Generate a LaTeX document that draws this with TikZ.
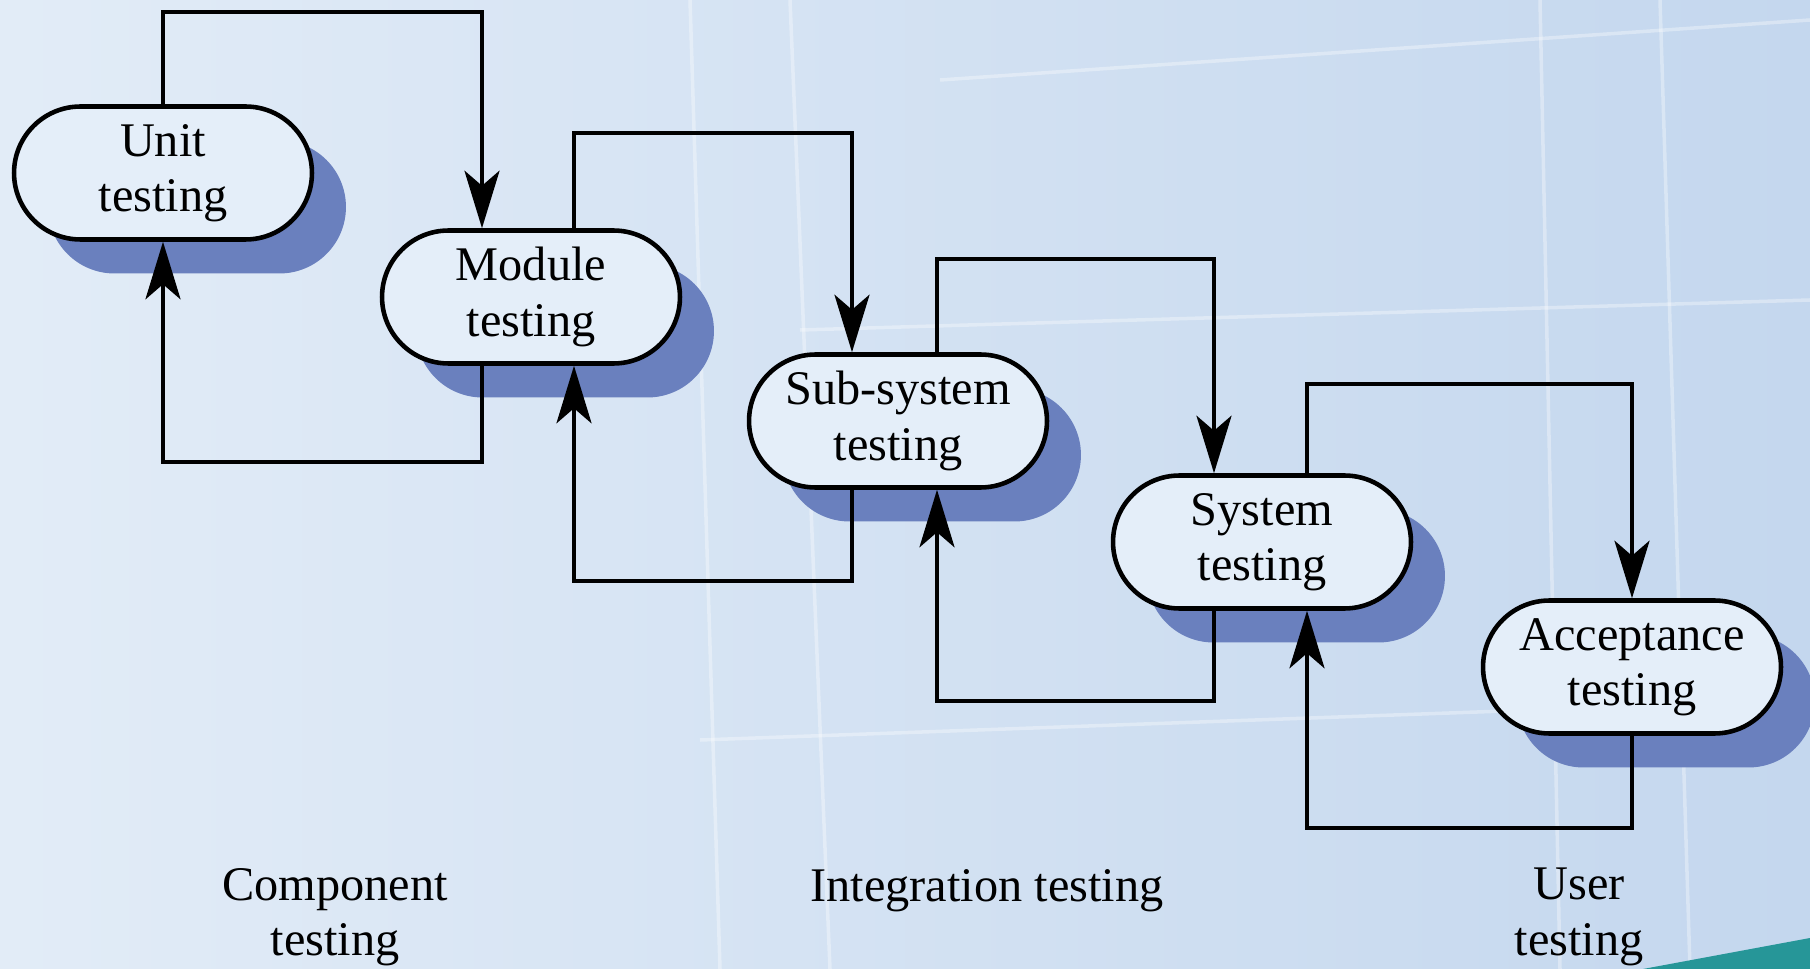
\documentclass[tikz,border=0pt]{standalone}
\usepackage{fontspec}
\setmainfont{Liberation Serif}
\usetikzlibrary{arrows.meta,shapes.misc,shadows}
\definecolor{bgblue}{RGB}{196,215,238}
\definecolor{bglight}{RGB}{226,236,247}
\definecolor{boxfill}{RGB}{228,238,249}
\definecolor{shadowblue}{RGB}{106,128,190}
\definecolor{cornerteal}{RGB}{38,150,152}

\tikzset{
  stage/.style={rounded rectangle, draw, line width=2.6pt, fill=boxfill,
    minimum width=5.96cm, minimum height=2.66cm, inner sep=0pt, align=center,
    font=\fontsize{27.5}{31.5}\selectfont,
    drop shadow={shadow xshift=0.68cm, shadow yshift=-0.68cm, fill=shadowblue, opacity=1}},
  flow/.style={line width=2.4pt, -{Stealth[length=1.15cm,width=0.7cm,inset=0.3cm]}},
  phase/.style={align=center, font=\fontsize{27.5}{31.5}\selectfont}
}

\begin{document}
\begin{tikzpicture}[x=0.02cm,y=-0.02cm]
        \useasboundingbox (0,0) rectangle (1810,969);
        \clip (0,0) rectangle (1810,969);
        % background
        \shade[left color=bglight, right color=bgblue] (0,0) rectangle (1810,969);
        \draw[white, line width=2pt, opacity=0.35] (690,0) -- (720,969);
        \draw[white, line width=2pt, opacity=0.35] (790,0) -- (830,969);
        \draw[white, line width=2pt, opacity=0.35] (1540,0) -- (1560,969);
        \draw[white, line width=2pt, opacity=0.35] (1660,0) -- (1690,969);
        \draw[white, line width=2pt, opacity=0.35] (940,80) -- (1810,20);
        \draw[white, line width=2pt, opacity=0.35] (800,330) -- (1810,300);
        \draw[white, line width=2pt, opacity=0.35] (700,740) -- (1810,700);
        \fill[cornerteal] (1643,969) -- (1810,938) -- (1810,969) -- cycle;

        % stages
        \node[stage] (unit) at (163,173) {Unit\\testing};
        \node[stage] (module) at (531,297) {Module\\testing};
        \node[stage] (subsys) at (898,421) {Sub-system\\testing};
        \node[stage] (system) at (1262,542) {System\\testing};
        \node[stage] (accept) at (1632,667) {Acceptance\\testing};

        % phases
        \node[phase] (comp) at (335,917) {Component\\testing};
        \node[phase] (integ) at (987,891) {Integration testing};
        \node[phase] (user) at (1579,917) {User\\testing};

        % forward and back loops
        \coordinate (a1) at (482,12);
        \coordinate (b1) at (163,462);
        \draw[flow] (unit.north) |- (a1) -- (a1 |- module.north);
        \draw[flow] (a1 |- module.south) |- (b1) -- (unit.south);

        \coordinate (a2) at (574,133);
        \coordinate (c2) at (852,133);
        \coordinate (b2) at (574,581);
        \draw[flow] (a2 |- module.north) -- (a2) -- (c2) -- (c2 |- subsys.north);
        \draw[flow] (c2 |- subsys.south) |- (b2) -- (b2 |- module.south);

        \coordinate (a3) at (937,259);
        \coordinate (c3) at (1214,259);
        \coordinate (b3) at (937,701);
        \draw[flow] (a3 |- subsys.north) -- (a3) -- (c3) -- (c3 |- system.north);
        \draw[flow] (c3 |- system.south) |- (b3) -- (b3 |- subsys.south);

        \coordinate (a4) at (1307,384);
        \coordinate (c4) at (1632,384);
        \coordinate (b4) at (1307,828);
        \draw[flow] (a4 |- system.north) -- (a4) -- (c4) -- (accept.north);
        \draw[flow] (accept.south) |- (b4) -- (b4 |- system.south);
\end{tikzpicture}
\end{document}
